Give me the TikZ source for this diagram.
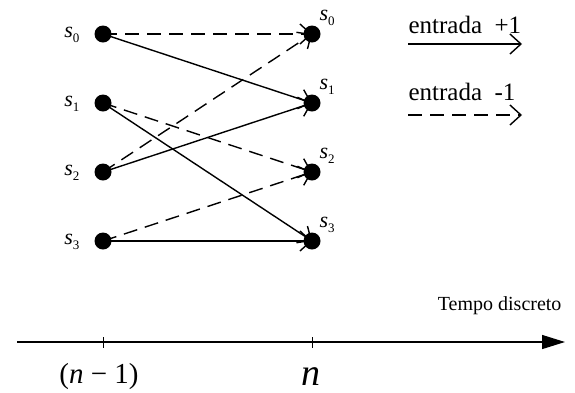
\documentclass[tikz,border=0pt]{standalone}
\usepackage{fontspec}
\setmainfont{Liberation Serif}
\usetikzlibrary{arrows.meta}

% state label: italic s with upright index
\newcommand{\sn}[1]{\textit{s}\raisebox{-0.55ex}{\fontsize{13}{13}\selectfont #1}}

\begin{document}
\begin{tikzpicture}[x=1pt, y=-1pt,
    state/.style={circle, fill=black, inner sep=0pt, minimum size=17pt},
    trans/.style={line width=1.4pt, -{Straight Barb[length=11pt,width=20pt]}},
    dtrans/.style={trans, dash pattern=on 14pt off 8pt},
    slab/.style={font=\fontsize{22}{26}\selectfont}]
    \useasboundingbox (0,0) rectangle (575,392);

    % states at time n-1 (left) and n (right)
    \foreach \i/\y in {0/34, 1/103, 2/172, 3/241} {
        \node[state] (a\i) at (103,\y) {};
        \node[state] (b\i) at (312,\y) {};
        \node[slab, anchor=base east] (la\i) at ([xshift=-20pt,yshift=-3pt]a\i.center) {\sn{\i}};
        \node[slab, anchor=base west] (lb\i) at ([xshift=4pt,yshift=14pt]b\i.center) {\sn{\i}};
    }

    % input +1
    \draw[trans] (a0.center) -- (b1.center);
    \draw[trans] (a1.center) -- (b3.center);
    \draw[trans] (a2.center) -- (b1.center);
    \draw[trans] (a3.center) -- (b3.center);

    % input -1
    \draw[dtrans] (a0.center) -- (b0.center);
    \draw[dtrans] (a1.center) -- (b2.center);
    \draw[dtrans] (a2.center) -- (b0.center);
    \draw[dtrans] (a3.center) -- (b2.center);

    % legend
    \node[font=\fontsize{25}{29}\selectfont, anchor=base west] (ep) at (405,33) {entrada\hspace{0.5em}+1};
    \coordinate (ep1) at (408,44);
    \coordinate (ep2) at (522,44);
    \draw[trans] (ep1) -- (ep2);
    \node[font=\fontsize{25}{29}\selectfont, anchor=base west] (em) at (405,100) {entrada\hspace{0.5em}-1};
    \coordinate (em1) at (408,115);
    \coordinate (em2) at (522,115);
    \draw[dtrans] (em1) -- (em2);

    % time axis
    \coordinate (t0) at (17,342);
    \coordinate (t1) at (565,342);
    \draw[line width=1.3pt, -{Triangle[length=23pt,width=14pt]}] (t0) -- (t1);
    \draw[line width=1pt] (a0 |- t0) ++(0,-5) -- ++(0,11);
    \draw[line width=1pt] (b0 |- t0) ++(0,-5) -- ++(0,11);
    \node[font=\fontsize{20}{24}\selectfont, anchor=base east] (tempo) at (565,310) {Tempo discreto};
    \node[font=\fontsize{29}{32}\selectfont, anchor=base] (tm) at (99,383) {(\textit{n} − 1)};
    \node[font=\fontsize{38}{42}\selectfont\itshape, anchor=base] (tn) at (311,385) {n};
\end{tikzpicture}
\end{document}
